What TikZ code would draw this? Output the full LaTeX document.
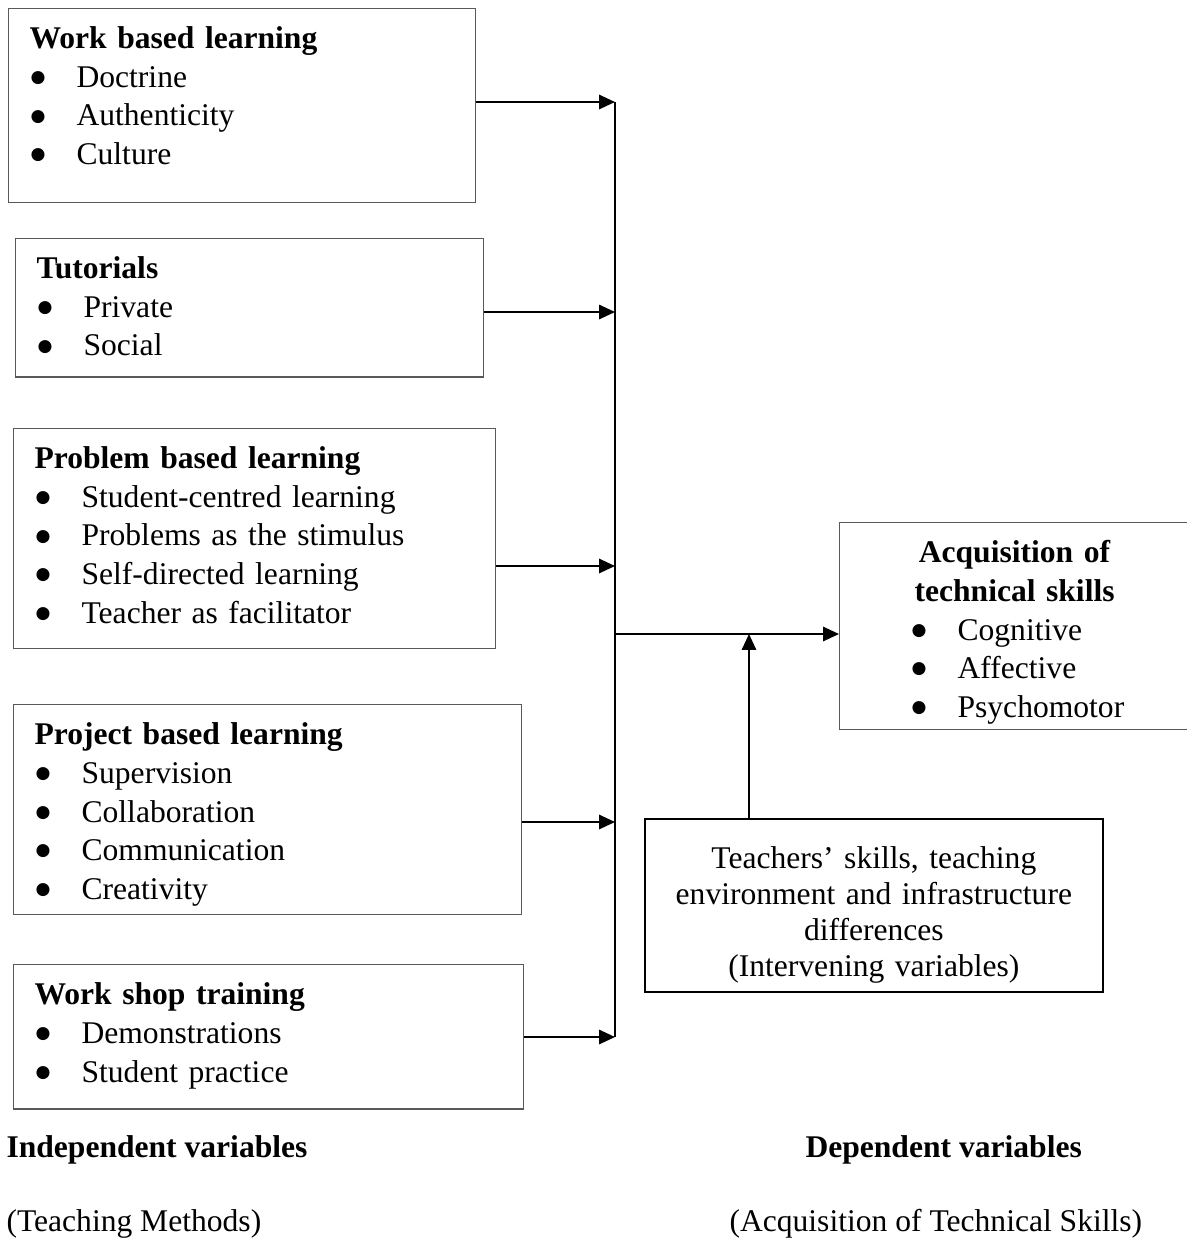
\documentclass[tikz,border=0pt]{standalone}
\usepackage{fontspec}
\setmainfont{Liberation Serif}
\newfontfamily\dotfont{DejaVu Sans}
\usetikzlibrary{positioning,arrows.meta,calc}
\newdimen\px \px=0.38pt
\newcommand{\bitem}[1]{\makebox[47\px][l]{\hspace{1\px}\raisebox{1.8pt}{\dotfont\fontsize{6.5pt}{6.5pt}\selectfont ●}}#1}
\newcommand{\topgap}[1]{\rule{0pt}{#1\px}}
\newcommand{\botgap}[1]{\rule[-#1\px]{0pt}{#1\px}}
\tikzstyle{methbox}=[rectangle, draw=black!65, line width=0.45pt, anchor=north west, inner xsep=21\px,
inner ysep=0pt, align=left, font=\fontsize{12pt}{38.7\px}\selectfont]
\tikzstyle{outbox}=[methbox, align=center]
\tikzstyle{intbox}=[rectangle, draw=black, line width=0.65pt, anchor=north west, inner xsep=10\px,
inner ysep=0pt, align=center, font=\fontsize{12pt}{36\px}\selectfont]
\tikzstyle{feed}=[-{Triangle[length=6pt,width=5.4pt]}, line width=0.75pt]
\tikzstyle{trunk}=[-, line width=0.75pt]
\tikzstyle{lbl}=[anchor=base west, inner sep=0pt, font=\fontsize{12pt}{14pt}\selectfont]

\begin{document}
\begin{tikzpicture}[x=0.38pt, y=-0.38pt]
\useasboundingbox (0,0) rectangle (1187,1238);

% teaching methods
    \node (wbl) [methbox, text width=425\px] at (8,8)
        {\topgap{40}\textbf{Work based learning}\\ \bitem{Doctrine}\\ \bitem{Authenticity}\\ \bitem{Culture}\botgap{38}};
    \node (tut) [methbox, text width=426\px] at (15,238)
        {\topgap{40}\textbf{Tutorials}\\ \bitem{Private}\\ \bitem{Social}\botgap{21}};
    \node (pbl) [methbox, text width=440\px] at (13,428)
        {\topgap{40}\textbf{Problem based learning}\\ \bitem{Student-centred learning}\\ \bitem{Problems as the stimulus}\\
         \bitem{Self-directed learning}\\ \bitem{Teacher as facilitator}\botgap{25}};
    \node (prj) [methbox, text width=466\px] at (13,704)
        {\topgap{40}\textbf{Project based learning}\\ \bitem{Supervision}\\ \bitem{Collaboration}\\
         \bitem{Communication}\\ \bitem{Creativity}\botgap{15}};
    \node (wst) [methbox, text width=468\px] at (13,964)
        {\topgap{40}\textbf{Work shop training}\\ \bitem{Demonstrations}\\ \bitem{Student practice}\botgap{27}};

% outcome and intervening
    \node (acq) [outbox, text width=308\px] at (839,522)
        {\topgap{40}\textbf{Acquisition of}\\ \textbf{technical skills}\\
         \makebox[208\px][l]{\bitem{Cognitive}}\\ \makebox[208\px][l]{\bitem{Affective}}\\
         \makebox[208\px][l]{\bitem{Psychomotor}}\botgap{12}};
    \node (intv) [intbox, text width=438\px] at (644,818)
        {\topgap{50}Teachers’ skills, teaching\\ environment and infrastructure\\ differences\\
         (Intervening variables)\botgap{15}};

% captions
    \node (indep) [lbl] at (6,1157) {\textbf{Independent variables}};
    \node (indepsub) [lbl] at (6,1231) {(Teaching Methods)};
    \node (dep) [lbl] at (805,1157) {\textbf{Dependent variables}};
    \node (depsub) [lbl] at (729,1231) {(Acquisition of Technical Skills)};

%%% connectors
\coordinate (j1) at (615,102);
\coordinate (j2) at (615,312);
\coordinate (j3) at (615,566);
\coordinate (j4) at (615,822);
\coordinate (j5) at (615,1037);
\coordinate (jm) at (615,634);
\coordinate (ju) at (749,634);

\draw[trunk] (j1) -- (j5);
\draw[feed] (wbl.east |- j1) -- (j1);
\draw[feed] (tut.east |- j2) -- (j2);
\draw[feed] (pbl.east |- j3) -- (j3);
\draw[feed] (prj.east |- j4) -- (j4);
\draw[feed] (wst.east |- j5) -- (j5);
\draw[feed] (jm) -- (acq.west |- jm);
\draw[feed] (intv.north -| ju) -- (ju);

\end{tikzpicture}
\end{document}
